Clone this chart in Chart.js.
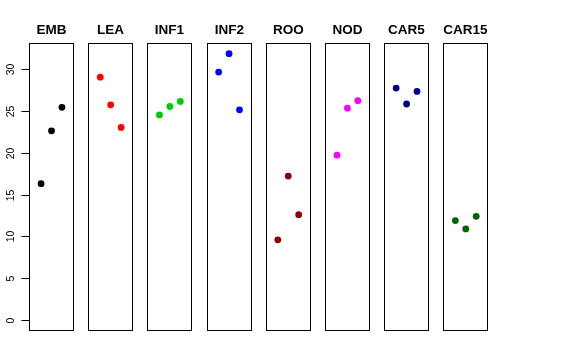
<!DOCTYPE html>
<html>
<head>
<meta charset="utf-8">
<script src="https://cdn.jsdelivr.net/npm/chart.js@4/dist/chart.umd.min.js"></script>
<style>
  html, body { margin: 0; padding: 0; background: #ffffff; }
  canvas { display: block; }
</style>
</head>
<body>
<canvas id="c" width="576" height="360"></canvas>
<script>
// ---- data ----
const categories = ['EMB', 'LEA', 'INF1', 'INF2', 'ROO', 'NOD', 'CAR5', 'CAR15'];
const valEMB   = [16.3, 22.6, 25.4];
const valLEA   = [29.0, 25.7, 23.0];
const valINF1  = [24.5, 25.5, 26.1];
const valINF2  = [29.6, 31.8, 25.1];
const valROO   = [9.6, 17.2, 12.6];
const valNOD   = [19.7, 25.3, 26.2];
const valCAR5  = [27.7, 25.8, 27.3];
const valCAR15 = [11.9, 10.9, 12.4];
const pointOrder = [1, 2, 3];
const colors = ['#000000', '#FF0000', '#00CD00', '#0000FF', '#8B0000', '#FF00FF', '#00008B', '#006400'];
const yTicks = [0, 5, 10, 15, 20, 25, 30];

const seriesValues = [valEMB, valLEA, valINF1, valINF2, valROO, valNOD, valCAR5, valCAR15];

// ---- panel layout (x units) ----
const PANEL_MIN = -0.16, PANEL_MAX = 4.16;   // R-style 4% extension of 0..4
const STRIDE = 5.676;
const nPanels = categories.length;

const allVals = [].concat(...seriesValues);
const yHi = Math.max(...allVals), yLo = 0;
const ext = (yHi - yLo) * 0.04;

const datasets = categories.map((name, p) => ({
  label: name,
  data: seriesValues[p].map((v, i) => ({ x: p * STRIDE + pointOrder[i], y: v })),
  backgroundColor: colors[p],
  borderColor: colors[p],
  borderWidth: 0,
  pointRadius: 3.4,
  pointHoverRadius: 3.4,
  showLine: false
}));

const panelsPlugin = {
  id: 'panels',
  afterDraw(chart) {
    const ctx = chart.ctx;
    const xs = chart.scales.x, ys = chart.scales.y;
    const ca = chart.chartArea;
    const top = Math.round(ca.top) + 0.5, bottom = Math.round(ca.bottom) - 0.5;
    ctx.save();
    // boxes and titles
    for (let p = 0; p < nPanels; p++) {
      const x0 = Math.round(xs.getPixelForValue(p * STRIDE + PANEL_MIN)) + 0.5;
      const x1 = Math.round(xs.getPixelForValue(p * STRIDE + PANEL_MAX)) - 0.5;
      ctx.strokeStyle = '#000000';
      ctx.lineWidth = 1;
      ctx.strokeRect(x0, top, x1 - x0, bottom - top);
      ctx.fillStyle = '#000000';
      ctx.font = 'bold 13.5px "Liberation Sans", Arial, sans-serif';
      ctx.textAlign = 'center';
      ctx.textBaseline = 'alphabetic';
      ctx.fillText(categories[p], (x0 + x1) / 2, 34);
    }
    // y axis on the left edge of the first panel
    const ax = Math.round(xs.getPixelForValue(PANEL_MIN)) + 0.5;
    ctx.beginPath();
    ctx.moveTo(ax, Math.round(ys.getPixelForValue(yTicks[0])) + 0.5);
    ctx.lineTo(ax, Math.round(ys.getPixelForValue(yTicks[yTicks.length - 1])) + 0.5);
    ctx.stroke();
    ctx.font = '10.5px "Liberation Sans", Arial, sans-serif';
    yTicks.forEach(t => {
      const py = Math.round(ys.getPixelForValue(t)) + 0.5;
      ctx.beginPath();
      ctx.moveTo(ax - 8, py);
      ctx.lineTo(ax, py);
      ctx.stroke();
      ctx.save();
      ctx.translate(13.5, py);
      ctx.rotate(-Math.PI / 2);
      ctx.textAlign = 'center';
      ctx.textBaseline = 'alphabetic';
      ctx.fillText(String(t), 0, 0);
      ctx.restore();
    });
    ctx.restore();
  }
};

new Chart(document.getElementById('c'), {
  type: 'scatter',
  data: { datasets },
  options: {
    responsive: false,
    animation: false,
    layout: { padding: { left: 29, top: 43, right: 87.7, bottom: 29 } },
    scales: {
      x: { type: 'linear', display: false, min: PANEL_MIN, max: (nPanels - 1) * STRIDE + PANEL_MAX },
      y: { type: 'linear', display: false, min: yLo - ext, max: yHi + ext }
    },
    plugins: {
      legend: { display: false },
      tooltip: { enabled: false },
      title: { display: false }
    }
  },
  plugins: [panelsPlugin]
});
</script>
</body>
</html>
